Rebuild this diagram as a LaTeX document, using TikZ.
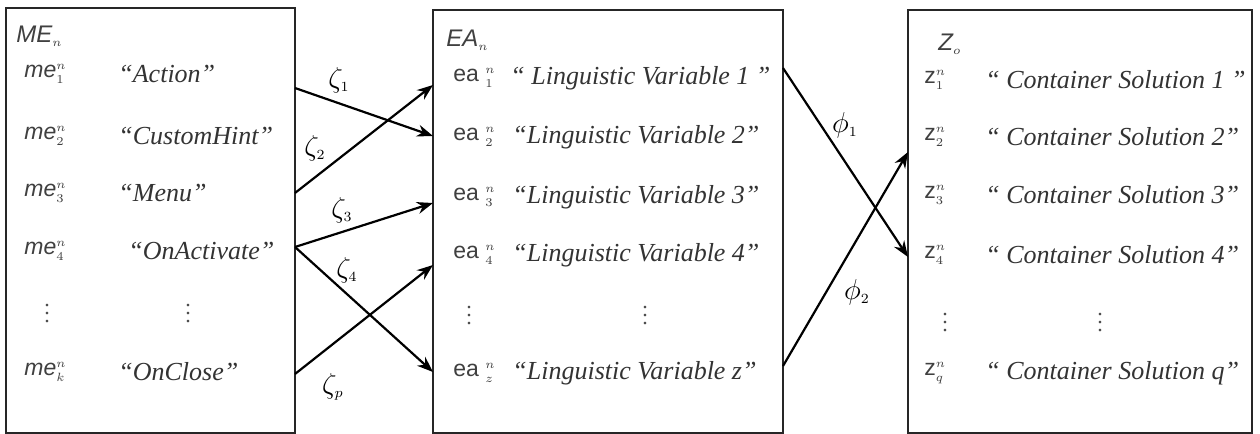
\documentclass[tikz,border=0pt]{standalone}
\usepackage{fontspec}
\setmainfont{Liberation Serif}
\setsansfont{Liberation Sans}
\usetikzlibrary{arrows.meta}
\begin{document}
\begin{tikzpicture}[x=0.5pt,y=-0.5pt,
  box/.style={draw=black!85, line width=1.3pt, fill=white, inner sep=0pt},
  lbl/.style={anchor=west, inner sep=0pt, text=black!80, font=\fontsize{13}{15}\selectfont\itshape},
  var/.style={anchor=west, inner sep=0pt, text=black!75, font=\fontsize{11.5}{14}\selectfont\sffamily},
  hdr/.style={var, font=\fontsize{12}{14}\selectfont\sffamily\itshape},
  dts/.style={inner sep=0pt, text=black!70, font=\fontsize{11}{13}\selectfont},
  arr/.style={line width=1.1pt, -{Stealth[length=8pt,width=6pt]}},
  greek/.style={inner sep=0pt, font=\fontsize{15}{17}\selectfont}]
\useasboundingbox (0,0) rectangle (1260,434);
% boxes
\node[box, minimum width=144.5pt, minimum height=212.5pt] (B1) at (150.5,220.5) {};
\node[box, minimum width=175pt, minimum height=211.5pt] (B2) at (608,221.5) {};
\node[box, minimum width=172pt, minimum height=211.5pt] (B3) at (1080,221.5) {};
% headers
\node[hdr] (h1) at (16,36) {ME$_{\scriptscriptstyle n}$};
\node[hdr] (h2) at (446,40) {EA$_{\scriptscriptstyle n}$};
\node[hdr] (h3) at (938,44) {Z$_{\scriptscriptstyle o}$};
% box 1
\node[var] (m1) at (24,74) {\itshape me$^{\scriptscriptstyle n}_{\scriptscriptstyle 1}$};
\node[var] (m2) at (24,136) {\itshape me$^{\scriptscriptstyle n}_{\scriptscriptstyle 2}$};
\node[var] (m3) at (24,193) {\itshape me$^{\scriptscriptstyle n}_{\scriptscriptstyle 3}$};
\node[var] (m4) at (24,251) {\itshape me$^{\scriptscriptstyle n}_{\scriptscriptstyle 4}$};
\node[var] (mk) at (24,372) {\itshape me$^{\scriptscriptstyle n}_{\scriptscriptstyle k}$};
\node[lbl] (t1) at (118,74) {“Action”};
\node[lbl] (t2) at (118,136) {“CustomHint”};
\node[lbl] (t3) at (118,193) {“Menu”};
\node[lbl] (t4) at (128,251) {“OnActivate”};
\node[lbl] (tk) at (118,372) {“OnClose”};
\node[dts] (d1a) at (47,308) {$\vdots$};
\node[dts] (d1b) at (188,308) {$\vdots$};
% box 2
\node[var] (e1) at (453,78) {ea $^{\scriptscriptstyle n}_{\scriptscriptstyle 1}$};
\node[var] (e2) at (453,137) {ea $^{\scriptscriptstyle n}_{\scriptscriptstyle 2}$};
\node[var] (e3) at (453,197) {ea $^{\scriptscriptstyle n}_{\scriptscriptstyle 3}$};
\node[var] (e4) at (453,255) {ea $^{\scriptscriptstyle n}_{\scriptscriptstyle 4}$};
\node[var] (ez) at (453,373) {ea $^{\scriptscriptstyle n}_{\scriptscriptstyle z}$};
\node[lbl] (l1) at (510,78) {“ Linguistic Variable 1 ”};
\node[lbl] (l2) at (512,137) {“Linguistic Variable 2”};
\node[lbl] (l3) at (512,197) {“Linguistic Variable 3”};
\node[lbl] (l4) at (512,255) {“Linguistic Variable 4”};
\node[lbl] (lz) at (512,373) {“Linguistic Variable z”};
\node[dts] (d2a) at (469,310) {$\vdots$};
\node[dts] (d2b) at (645,310) {$\vdots$};
% box 3
\node[var] (z1) at (924,80) {z$^{\scriptscriptstyle n}_{\scriptscriptstyle 1}$};
\node[var] (z2) at (924,137) {z$^{\scriptscriptstyle n}_{\scriptscriptstyle 2}$};
\node[var] (z3) at (924,195) {z$^{\scriptscriptstyle n}_{\scriptscriptstyle 3}$};
\node[var] (z4) at (924,255) {z$^{\scriptscriptstyle n}_{\scriptscriptstyle 4}$};
\node[var] (zq) at (924,373) {z$^{\scriptscriptstyle n}_{\scriptscriptstyle q}$};
\node[lbl] (c1) at (985,80) {“ Container Solution 1 ”};
\node[lbl] (c2) at (985,137) {“ Container Solution 2”};
\node[lbl] (c3) at (985,195) {“ Container Solution 3”};
\node[lbl] (c4) at (985,255) {“ Container Solution 4”};
\node[lbl] (cq) at (985,373) {“ Container Solution q”};
\node[dts] (d3a) at (945,317) {$\vdots$};
\node[dts] (d3b) at (1100,317) {$\vdots$};
% connector ends
\coordinate (a1s) at (295,88);  \coordinate (a1e) at (433,136);
\coordinate (a2s) at (295,193); \coordinate (a2e) at (433,85);
\coordinate (a3s) at (295,247); \coordinate (a3e) at (433,203);
\coordinate (a4e) at (433,372);
\coordinate (a5s) at (295,374); \coordinate (a5e) at (433,265);
\coordinate (p1s) at (783,68);  \coordinate (p1e) at (908,257);
\coordinate (p2s) at (783,366); \coordinate (p2e) at (908,152);
\draw[arr] (a1s) -- (a1e);
\draw[arr] (a2s) -- (a2e);
\draw[arr] (a3s) -- (a3e);
\draw[arr] (a3s) -- (a4e);
\draw[arr] (a5s) -- (a5e);
\draw[arr] (p1s) -- (p1e);
\draw[arr] (p2s) -- (p2e);
% labels
\node[greek] (g1) at (339,80) {$\zeta_{\scriptscriptstyle 1}$};
\node[greek] (g2) at (315,148) {$\zeta_{\scriptscriptstyle 2}$};
\node[greek] (g3) at (342,210) {$\zeta_{\scriptscriptstyle 3}$};
\node[greek] (g4) at (347,270) {$\zeta_{\scriptscriptstyle 4}$};
\node[greek] (gp) at (333,387) {$\zeta_{\scriptscriptstyle p}$};
\node[greek] (f1) at (845,125) {$\phi_{\scriptscriptstyle 1}$};
\node[greek] (f2) at (857,292) {$\phi_{\scriptscriptstyle 2}$};
\end{tikzpicture}
\end{document}
